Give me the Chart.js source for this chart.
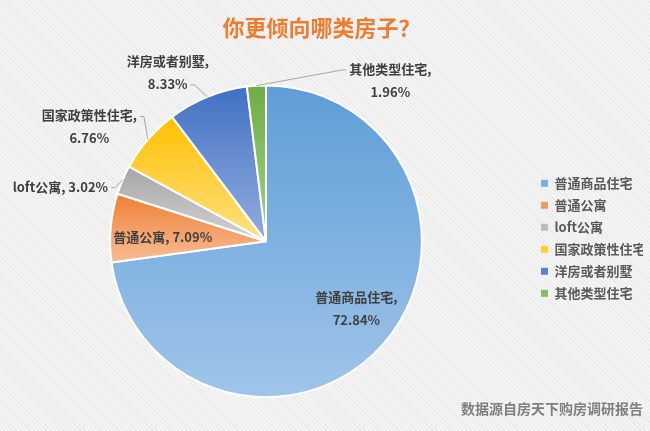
<!DOCTYPE html>
<html>
<head>
<meta charset="utf-8">
<script src="https://cdn.jsdelivr.net/npm/chart.js@4.4.0/dist/chart.umd.min.js"></script>
<style>
html, body { margin: 0; padding: 0; }
body { background: #f1f1f1 repeating-linear-gradient(45deg, #eaeaea 0 1px, #f4f4f4 1px 3px); }
#wrap { width: 650px; height: 431px; position: relative; }
</style>
</head>
<body>
<div id="wrap"><canvas id="myChart"></canvas></div>
<script>
// データ
const categories = ['普通商品住宅', '普通公寓', 'loft公寓', '国家政策性住宅', '洋房或者别墅', '其他类型住宅'];
const shares = [72.84, 7.09, 3.02, 6.76, 8.33, 1.96];
const titleText = '你更倾向哪类房子？';
const sourceText = '数据源自房天下购房调研报告';

// 色 (グラデーション上端 / 下端 / 凡例)
const topColors = ['#5f9dd6', '#ee7f36', '#a6a6a6', '#ffbf00', '#4170c3', '#6fac46'];
const bottomColors = ['#a0c5ea', '#f8bd94', '#d2d2d2', '#ffe184', '#93addf', '#a6d08a'];
const legendColors = ['#7aaedf', '#ef9a62', '#bdbdbd', '#ffcd35', '#5a83cb', '#8abf66'];

// ラベル位置: 円の中心からの極座標 (半径の倍率, 角度)
const labelPlaces = [
    { f: 0.724, a: 36.8, split: true },
    { f: 0.663, a: 182.2, split: false },
    { f: 1.072, a: 199.1, split: false, align: 'right', leader: 'right1' },
    { f: 1.35, a: 212.9, split: true, leader: 'right1' },
    { f: 1.253, a: 239.8, split: true, leader: 'right2' },
    { f: 1.304, a: 307.7, split: true, leader: 'left1' }
];

const labelFont = 'bold 13px "Noto Sans CJK SC"';

function sliceFill(ctx) {
    const chart = ctx.chart;
    const area = chart.chartArea;
    const i = ctx.dataIndex;
    if (!area || i === undefined) return legendColors[i] || '#cccccc';
    const cx = (area.left + area.right) / 2;
    const cy = (area.top + area.bottom) / 2;
    const r = Math.min(area.width, area.height) / 2;
    const total = shares.reduce((a, b) => a + b, 0);
    let a0 = -Math.PI / 2;
    for (let k = 0; k < i; k++) a0 += shares[k] / total * Math.PI * 2;
    const a1 = a0 + shares[i] / total * Math.PI * 2;
    const ys = [cy, cy + r * Math.sin(a0), cy + r * Math.sin(a1)];
    for (const q of [Math.PI / 2, Math.PI * 1.5]) {
        if (q > a0 && q < a1) ys.push(cy + r * Math.sin(q));
    }
    const g = chart.ctx.createLinearGradient(0, Math.min(...ys), 0, Math.max(...ys));
    g.addColorStop(0, topColors[i]);
    g.addColorStop(1, bottomColors[i]);
    return g;
}

const sliceLabels = {
    id: 'sliceLabels',
    afterDatasetsDraw(chart) {
        const meta = chart.getDatasetMeta(0);
        const c = chart.ctx;
        c.save();
        c.font = labelFont;
        c.textBaseline = 'middle';
        meta.data.forEach((arc, i) => {
            const { x, y, outerRadius, startAngle, endAngle } =
                arc.getProps(['x', 'y', 'outerRadius', 'startAngle', 'endAngle'], true);
            const p = labelPlaces[i];
            const ang = p.a * Math.PI / 180;
            const lx = x + Math.cos(ang) * p.f * outerRadius;
            const ly = y + Math.sin(ang) * p.f * outerRadius;
            const pct = shares[i].toFixed(2) + '%';
            let lines = p.split ? [categories[i] + ',', pct] : [categories[i] + ', ' + pct];
            const lh = 23;
            const y0 = ly - (lines.length - 1) * lh / 2;
            const boxes = lines.map((t, k) => {
                const w = c.measureText(t).width;
                const left = p.align === 'right' ? lx - w : lx - w / 2;
                return { t, left, right: left + w, y: y0 + k * lh };
            });
            c.fillStyle = '#3f3f3f';
            c.textAlign = 'left';
            boxes.forEach(b => c.fillText(b.t, b.left, b.y));

            if (p.leader) {
                const mid = (startAngle + endAngle) / 2;
                const ex = x + Math.cos(mid) * outerRadius;
                const ey = y + Math.sin(mid) * outerRadius;
                const b = boxes[p.leader.endsWith('2') ? 1 : 0];
                const left = p.leader.startsWith('left');
                const sx = left ? b.left - 3 : b.right + 3;
                c.strokeStyle = '#a6a6a6';
                c.lineWidth = 1;
                c.beginPath();
                c.moveTo(sx, b.y + 1);
                c.lineTo(sx + (left ? -4 : 4), b.y + 1);
                c.lineTo(ex, ey);
                c.stroke();
            }
        });
        c.restore();
    }
};

const data = {
    labels: categories,
    datasets: [{
        data: shares,
        backgroundColor: sliceFill,
        borderColor: '#ffffff',
        borderWidth: 2
    }]
};

const config = {
    type: 'pie',
    data: data,
    options: {
        responsive: true,
        maintainAspectRatio: false,
        animation: false,
        layout: {
            padding: { left: 0, right: 7, top: 0, bottom: 0 }
        },
        plugins: {
            title: {
                display: true,
                text: titleText,
                color: '#ed7d31',
                font: { family: '"Noto Sans CJK SC"', size: 22, weight: 'bold' },
                padding: { top: 14, bottom: 44 }
            },
            subtitle: {
                display: true,
                text: sourceText,
                position: 'bottom',
                align: 'end',
                color: '#7f7f7f',
                font: { family: '"Noto Sans CJK SC"', size: 14, weight: 'bold' },
                padding: { top: 2, bottom: 14 }
            },
            legend: {
                position: 'right',
                maxWidth: 111,
                title: {
                    display: true,
                    text: '',
                    font: { size: 38 },
                    padding: 0
                },
                labels: {
                    color: '#595959',
                    font: { family: '"Noto Sans CJK SC"', size: 13, weight: 'bold' },
                    boxWidth: 7,
                    boxHeight: 7,
                    padding: 9,
                    generateLabels(chart) {
                        const items = Chart.overrides.pie.plugins.legend.labels.generateLabels(chart);
                        items.forEach((it, i) => {
                            it.fillStyle = legendColors[i];
                            it.strokeStyle = legendColors[i];
                            it.lineWidth = 0;
                        });
                        return items;
                    }
                }
            },
            tooltip: { enabled: false }
        }
    },
    plugins: [sliceLabels]
};

new Chart(document.getElementById('myChart'), config);
</script>
</body>
</html>
